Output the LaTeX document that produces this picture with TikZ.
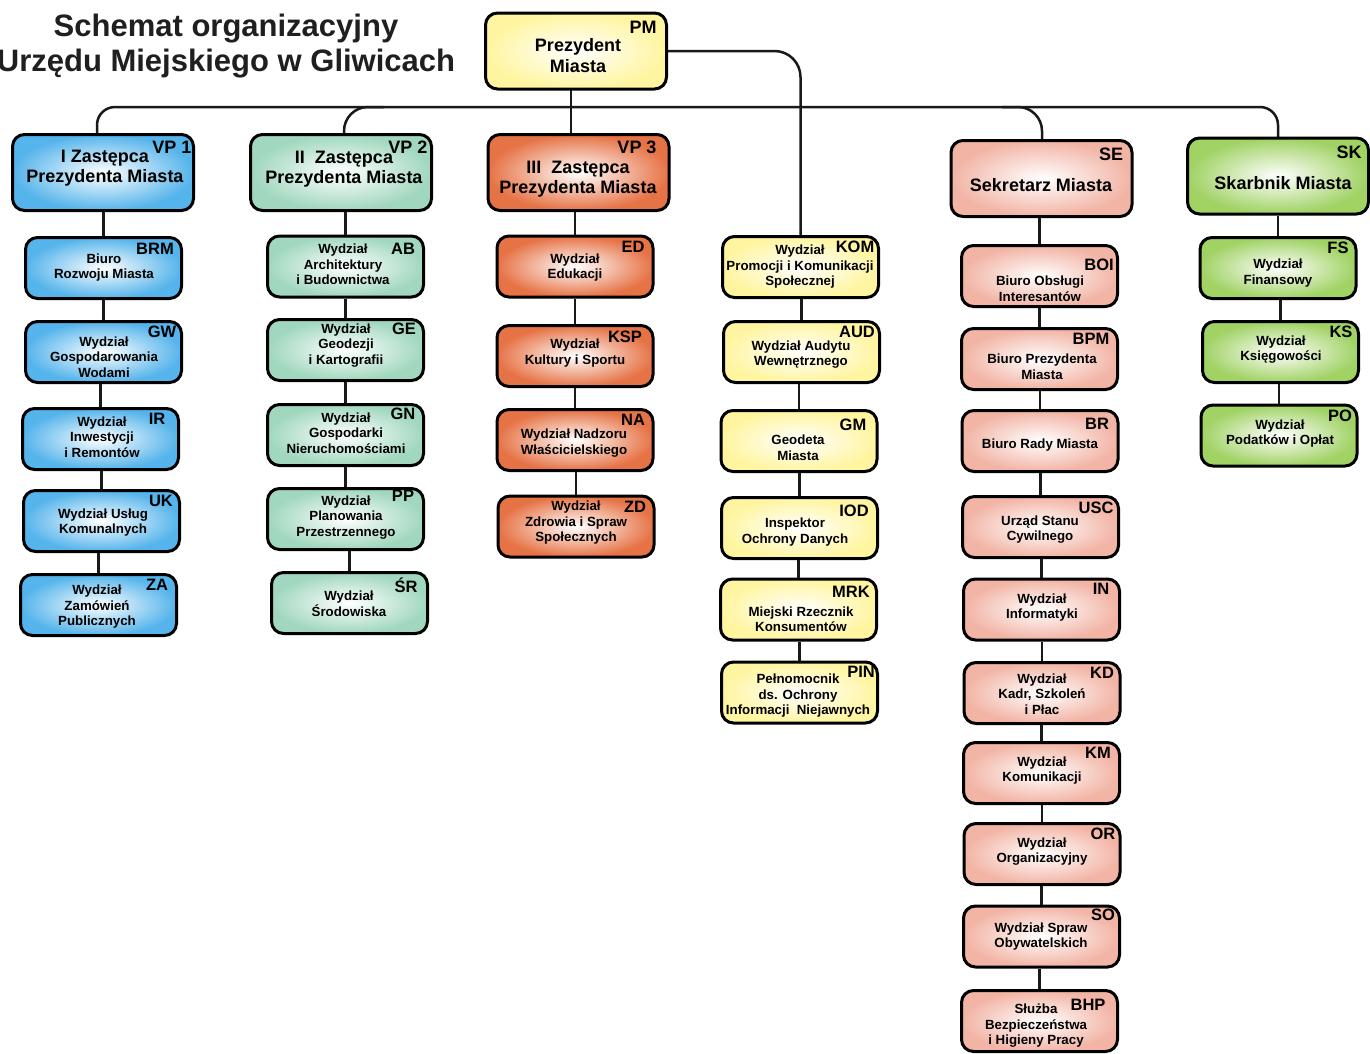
\documentclass[tikz,border=0pt]{standalone}
\usepackage{fontspec}
\setmainfont{Liberation Sans}
\usetikzlibrary{calc}
\definecolor{cblue}{RGB}{85,180,235}
\definecolor{cteal}{RGB}{160,215,190}
\definecolor{corange}{RGB}{230,115,70}
\definecolor{cyellow}{RGB}{255,245,160}
\definecolor{csalmon}{RGB}{242,180,165}
\definecolor{clime}{RGB}{160,210,100}
\tikzset{
  orgbx/.style={draw=black, line width=3pt, rounded corners=12pt, shade, inner color=white, outer color=#1, minimum width=156pt, minimum height=61pt, inner sep=0pt},
  orghd/.style={orgbx=#1, minimum width=181pt, minimum height=76pt},
  txt/.style={font=\fontsize{13.3}{15.5}\selectfont\bfseries, align=center, inner sep=0pt},
  htxt/.style={font=\fontsize{18}{20.5}\selectfont\bfseries, align=center, inner sep=0pt},
  codetxt/.style={font=\fontsize{16.5}{18}\selectfont\bfseries, inner sep=0pt},
  hcodetxt/.style={font=\fontsize{18}{20}\selectfont\bfseries, inner sep=0pt},
  link/.style={line width=2.5pt, draw=black!90}
}
% name, colour, centre, text pos, text, code pos, code
\newcommand\orgbox[7]{%
  \node[orgbx=#2] (#1) at (#3) {};
  \node[txt] (#1-t) at (#4) {#5};
  \node[codetxt] (#1-c) at (#6) {#7};}
\newcommand\orghead[7]{%
  \node[orghd=#2] (#1) at (#3) {};
  \node[htxt] (#1-t) at (#4) {#5};
  \node[hcodetxt] (#1-c) at (#6) {#7};}
\newcommand\orglink[2]{\draw[link] (#2.north) -- (#2.north |- #1.south);}
\begin{document}
\begin{tikzpicture}[x=1pt,y=-1pt]
\useasboundingbox (0,0) rectangle (1370,1053);
\fill[white] (0,0) rectangle (1370,1053);

\node[font=\fontsize{31}{35}\selectfont\bfseries, align=center, inner sep=0pt, text=black!88] (title) at (226,46) {Schemat organizacyjny\\Urzędu Miejskiego w Gliwicach};

% connectors first (behind boxes)
\coordinate (bus) at (0,107);
\coordinate (vp1p) at (97,133);
\coordinate (skp) at (1278,137);
\coordinate (vp2p) at (344,133);
\coordinate (sep) at (1042,139);
\coordinate (komp) at (800.5,235);
\draw[link, rounded corners=18pt] (vp1p) |- (skp |- bus) -- (skp);
\draw[link, rounded corners=24pt] (vp2p) |- ($(vp2p |- bus)+(40,0)$);
\draw[link, rounded corners=24pt] (sep) |- ($(sep |- bus)+(-40,0)$);
\draw[link] (571,90) -- (571,133);
\draw[link, rounded corners=26pt] (668,51) -| (komp);

% top
\orghead{pm}{cyellow}{576,51}{578,55.5}{Prezydent\\Miasta}{643,27}{PM}

% column 1
\orghead{vp1}{cblue}{103,172.5}{105,168}{I Zastępca\\Prezydenta Miasta}{172,147}{VP 1}
\orgbox{brm}{cblue}{103.5,268}{104,267.5}{Biuro\\Rozwoju Miasta}{155,249}{BRM}
\orgbox{gw}{cblue}{103.5,352}{104,357}{Wydział\\Gospodarowania\\Wodami}{162,332}{GW}
\orgbox{ir}{cblue}{100.5,439}{102,437}{Wydział\\Inwestycji\\i Remontów}{157,419}{IR}
\orgbox{uk}{cblue}{101.5,521}{103,522.5}{Wydział Usług\\Komunalnych}{161,501}{UK}
\orgbox{za}{cblue}{98.5,605}{97,607}{Wydział\\Zamówień\\Publicznych}{157,585}{ZA}
\orglink{vp1}{brm}\orglink{brm}{gw}\orglink{gw}{ir}\orglink{ir}{uk}\orglink{uk}{za}

% column 2
\orghead{vp2}{cteal}{341,172.5}{344,169}{II\ \ Zastępca\\Prezydenta Miasta}{408,147}{VP 2}
\orgbox{ab}{cteal}{345.5,266.5}{343,264.5}{Wydział\\Architektury\\i Budownictwa}{403,249}{AB}
\orgbox{ge}{cteal}{345.5,350}{346,345.5}{Wydział\\Geodezji\\i Kartografii}{404,329}{GE}
\orgbox{gn}{cteal}{345.5,435}{346,433}{Wydział\\Gospodarki\\Nieruchomościami}{403,414}{GN}
\orgbox{pp}{cteal}{345.5,519}{346,517.5}{Wydział\\Planowania\\Przestrzennego}{403,496}{PP}
\orgbox{sr}{cteal}{349.5,603}{349,603.5}{Wydział\\Środowiska}{406,585}{ŚR}
\orglink{vp2}{ab}\orglink{ab}{ge}\orglink{ge}{gn}\orglink{gn}{pp}\orglink{pp}{sr}

% column 3
\orghead{vp3}{corange}{578.5,172.5}{578,179}{III\ \ Zastępca\\Prezydenta Miasta}{637,147}{VP 3}
\orgbox{ed}{corange}{575,266.5}{575,267.5}{Wydział\\Edukacji}{633,247}{ED}
\orgbox{ksp}{corange}{575,356}{575,353}{Wydział\\Kultury i Sportu}{625,337}{KSP}
\orgbox{na}{corange}{575,440}{574,443}{Wydział Nadzoru\\Właścicielskiego}{633,420}{NA}
\orgbox{zd}{corange}{576,526.5}{576,523}{Wydział\\Zdrowia i Spraw\\Społecznych}{635,507}{ZD}
\orglink{vp3}{ed}\orglink{ed}{ksp}\orglink{ksp}{na}\orglink{na}{zd}

% column 4
\orgbox{kom}{cyellow}{800.5,267}{800,267}{Wydział\\Promocji i Komunikacji\\Społecznej}{855,247}{KOM}
\orgbox{aud}{cyellow}{801.5,352}{801,354.5}{Wydział Audytu\\Wewnętrznego}{857,332}{AUD}
\orgbox{gm}{cyellow}{799,441}{798,447.5}{Geodeta\\Miasta}{853,425}{GM}
\orgbox{iod}{cyellow}{799.5,528}{795,532}{Inspektor\\Ochrony Danych}{854,511}{IOD}
\orgbox{mrk}{cyellow}{798.5,609.5}{801,619}{Miejski Rzecznik\\Konsumentów}{851,592}{MRK}
\orgbox{pin}{cyellow}{799.5,692.5}{798,696}{Pełnomocnik\\ds. Ochrony\\Informacji\ \ Niejawnych}{861,672}{PIN}
\orglink{kom}{aud}\orglink{aud}{gm}\orglink{gm}{iod}\orglink{iod}{mrk}\orglink{mrk}{pin}

% column 5
\orghead{se}{csalmon}{1041.5,178.5}{1041,185}{Sekretarz Miasta}{1111,154}{SE}
\orgbox{boi}{csalmon}{1039.5,276}{1040,288.5}{Biuro Obsługi\\Interesantów}{1099,265}{BOI}
\orgbox{bpm}{csalmon}{1039.5,359}{1042,366.5}{Biuro Prezydenta\\Miasta}{1091,339}{BPM}
\orgbox{br}{csalmon}{1040,441}{1040,445}{Biuro Rady Miasta}{1097,424}{BR}
\orgbox{usc}{csalmon}{1040.5,527}{1040,529.5}{Urząd Stanu\\Cywilnego}{1096,508}{USC}
\orgbox{in}{csalmon}{1041.5,609.5}{1042,607.5}{Wydział\\Informatyki}{1101,589}{IN}
\orgbox{kd}{csalmon}{1042,693}{1042,694}{Wydział\\Kadr, Szkoleń\\i Płac}{1102,673}{KD}
\orgbox{km}{csalmon}{1041.5,773}{1042,770.5}{Wydział\\Komunikacji}{1098,753}{KM}
\orgbox{or}{csalmon}{1042,854}{1042,851.5}{Wydział\\Organizacyjny}{1103,834}{OR}
\orgbox{so}{csalmon}{1041.5,936.5}{1041,936.5}{Wydział Spraw\\Obywatelskich}{1103,915}{SO}
\orgbox{bhp}{csalmon}{1039.5,1021}{1036,1026}{Służba\\Bezpieczeństwa\\i Higieny Pracy}{1088,1005}{BHP}
\orglink{se}{boi}\orglink{boi}{bpm}\orglink{bpm}{br}\orglink{br}{usc}\orglink{usc}{in}\orglink{in}{kd}\orglink{kd}{km}\orglink{km}{or}\orglink{or}{so}\orglink{so}{bhp}

% column 6
\orghead{sk}{clime}{1278,176}{1283,183}{Skarbnik Miasta}{1349,152}{SK}
\orgbox{fs}{clime}{1278,268}{1278,273}{Wydział\\Finansowy}{1338,248}{FS}
\orgbox{ks}{clime}{1280.5,352}{1281,349.5}{Wydział\\Księgowości}{1341,332}{KS}
\orgbox{po}{clime}{1279,435.5}{1280,433.5}{Wydział\\Podatków i Opłat}{1340,416}{PO}
\orglink{sk}{fs}\orglink{fs}{ks}\orglink{ks}{po}
\end{tikzpicture}
\end{document}
